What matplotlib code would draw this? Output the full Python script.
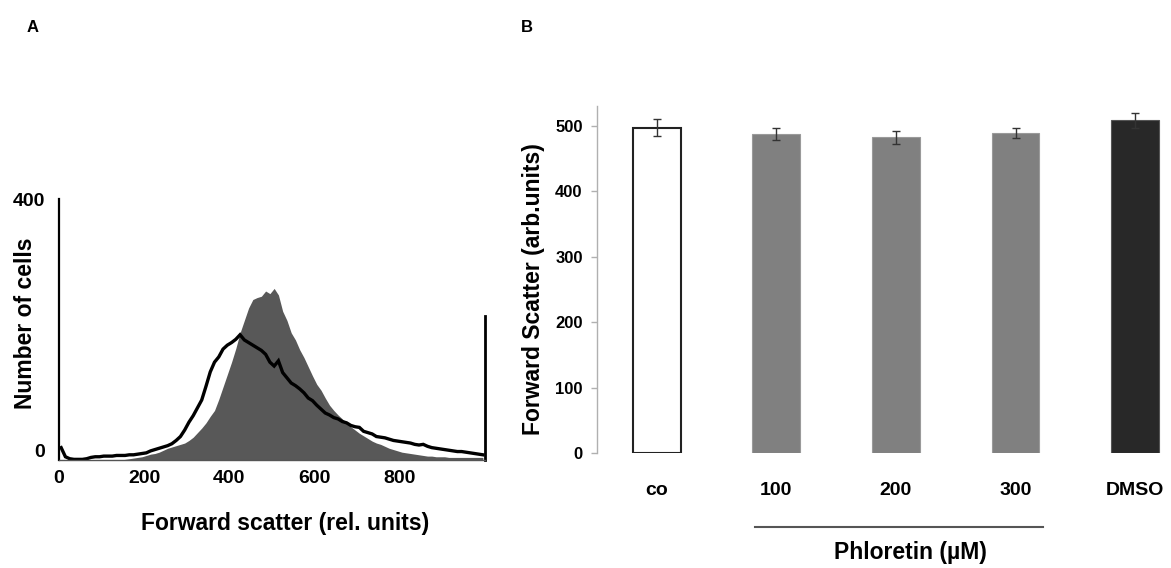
import numpy as np
import matplotlib
matplotlib.use("Agg")
import matplotlib.pyplot as plt
import matplotlib.transforms as mtransforms

plt.rcParams['font.family'] = ['Liberation Sans', 'DejaVu Sans']
plt.rcParams['font.weight'] = 'bold'

# --- Panel A: histogram (channels in steps of 10, 0..990) ---
channels = np.arange(0, 1000, 10)
treated_counts = [0] * 15 + [
    1, 2, 3, 4, 5, 7, 9, 10, 12, 15, 18, 20, 22, 24, 26, 30, 35, 42, 49, 57,
    67, 76, 93, 112, 131, 150, 171, 195, 214, 233, 246, 249, 251, 259, 255, 263,
    253, 228, 214, 195, 184, 169, 157, 143, 129, 116, 107, 95, 84, 76, 69, 63,
    57, 51, 46, 41, 37, 33, 29, 26, 24, 21, 18, 16, 14, 12, 11, 10, 9, 8,
    7, 6, 6, 5, 5, 5,
] + [4] * 9
control_counts = [
    19, 5, 2, 1, 1, 1, 2, 4, 5, 5, 6, 6, 6, 7, 7, 7, 8, 8, 9, 10,
    11, 14, 16, 18, 20, 22, 25, 30, 36, 46, 58, 68, 80, 92, 113, 135, 150, 158, 170, 176,
    180, 185, 192, 184, 180, 176, 172, 168, 162, 150, 144, 152, 134, 126, 118, 114, 109, 103, 95, 91,
    84, 78, 72, 69, 65, 63, 59, 57, 53, 51, 50, 44, 42, 40, 36, 35, 34, 32, 30, 29,
    28, 27, 26, 24, 23, 24, 21, 19, 18, 17, 16, 15, 14, 13, 13, 12, 11, 10, 9, 8,
]
overflow_count = 221
hist_xticks = [0, 200, 400, 600, 800]
hist_yticks = [0, 400]

# --- Panel B: bar chart ---
groups = ['co', '100', '200', '300', 'DMSO']
fsc_mean = [497, 487, 482, 489, 508]
fsc_err = [13, 9, 10, 8, 11.5]
bar_colors = ['white', '#808080', '#808080', '#808080', '#282828']
bar_edges = ['#222222', '#9a9a9a', '#9a9a9a', '#9a9a9a', '#555555']

fig = plt.figure(figsize=(11.71, 5.68), dpi=100)

# Panel A
axA = fig.add_axes([0.0504, 0.1901, 0.3638, 0.4595])
centers = channels + 5
axA.fill_between(centers, treated_counts, 0, color='#585858', linewidth=0)
axA.plot(centers, control_counts, color='black', linewidth=2.4,
         solid_joinstyle='miter')
axA.plot([1000, 1000], [0, overflow_count], color='black', linewidth=2.0,
         clip_on=False)
axA.set_xlim(0, 1000)
axA.set_ylim(0, 400)
axA.set_xticks(hist_xticks)
axA.set_yticks(hist_yticks)
axA.tick_params(axis='both', length=0, labelsize=14)
axA.tick_params(axis='x', pad=7)
axA.tick_params(axis='y', pad=10)
for s in ['top', 'right']:
    axA.spines[s].set_visible(False)
axA.spines['left'].set_linewidth(1.6)
axA.spines['left'].set_color('black')
axA.spines['bottom'].set_linewidth(1.0)
axA.spines['bottom'].set_color('#555555')
# lift the "0" label a little, as in the original figure
zero_lbl = axA.get_yticklabels()[0]
zero_lbl.set_transform(zero_lbl.get_transform() +
                       mtransforms.ScaledTranslation(0, 10 / 100, fig.dpi_scale_trans))
axA.set_ylabel('Number of cells', fontsize=16.5, fontweight='bold')
axA.yaxis.set_label_coords(-0.052, 0.525)
axA.set_xlabel('Forward scatter (rel. units)', fontsize=16.5, fontweight='bold')
axA.xaxis.set_label_coords(0.53, -0.199)

# Panel B
axB = fig.add_axes([0.5098, 0.2025, 0.4902, 0.6109])
xpos = np.arange(len(groups))
axB.bar(xpos, fsc_mean, width=0.4, color=bar_colors, edgecolor=bar_edges,
        linewidth=[1.5, 0.8, 0.8, 0.8, 0.8])
axB.errorbar(xpos, fsc_mean, yerr=fsc_err, fmt='none', ecolor='#333333',
             elinewidth=1.0, capsize=3, capthick=1.0)
axB.set_xlim(-0.5, 4.3)
axB.set_ylim(0, 530)
axB.set_yticks(range(0, 501, 100))
axB.set_xticks(xpos)
axB.set_xticklabels(groups, fontsize=14, fontweight='bold')
axB.tick_params(axis='x', length=0, pad=21)
axB.tick_params(axis='y', length=4.3, width=1, color='#b0b0b0', pad=6, labelsize=12)
for s in ['top', 'right', 'bottom']:
    axB.spines[s].set_visible(False)
axB.spines['left'].set_color('#b0b0b0')
axB.spines['left'].set_linewidth(1.0)
axB.set_ylabel('Forward Scatter (arb.units)', fontsize=16.5, fontweight='bold')
axB.yaxis.set_label_coords(-0.09, 0.4726)

trans = mtransforms.blended_transform_factory(axB.transData, axB.transAxes)
axB.plot([0.82, 3.23], [-0.213, -0.213], color='#555555', linewidth=1.5,
         transform=trans, clip_on=False)
axB.text(2.12, -0.288, 'Phloretin (µM)', transform=trans, ha='center', va='center',
         fontsize=16.5, fontweight='bold')

fig.text(33 / 1171, 1 - 28 / 568, 'A', ha='center', va='center', fontsize=12, fontweight='bold')
fig.text(527 / 1171, 1 - 28 / 568, 'B', ha='center', va='center', fontsize=12, fontweight='bold')

fig.savefig('out.png', dpi=100, facecolor='white')
